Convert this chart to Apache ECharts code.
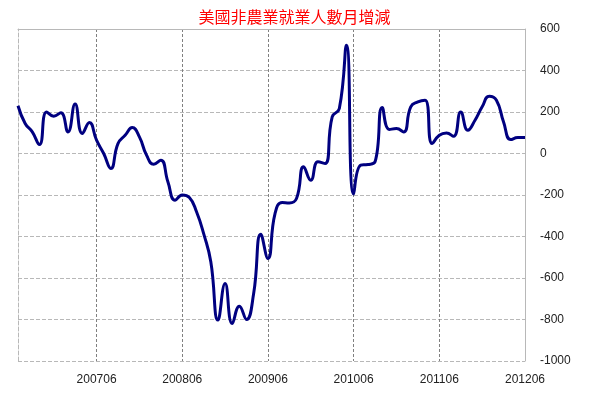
<!DOCTYPE html>
<html><head><meta charset="utf-8">
<script src="https://cdn.jsdelivr.net/npm/echarts@6/dist/echarts.min.js"></script>
<style>html,body{margin:0;padding:0;background:#fff}#c{width:589px;height:398px}</style>
</head><body><div id="c"></div>
<script>
var titleText = '美國非農業就業人數月增減';
// months 200607 .. 201206
var categories = [
 '200607','200608','200609','200610','200611','200612',
 '200701','200702','200703','200704','200705','200706','200707','200708','200709','200710','200711','200712',
 '200801','200802','200803','200804','200805','200806','200807','200808','200809','200810','200811','200812',
 '200901','200902','200903','200904','200905','200906','200907','200908','200909','200910','200911','200912',
 '201001','201002','201003','201004','201005','201006','201007','201008','201009','201010','201011','201012',
 '201101','201102','201103','201104','201105','201106','201107','201108','201109','201110','201111','201112',
 '201201','201202','201203','201204','201205','201206'];
var payrollChange = [
 230, 145, 104, 43, 200, 180,
 196, 104, 238, 96, 149, 64, 0, -72, 48, 88, 125, 80,
 -8, -52, -32, -137, -225, -200, -212, -281, -386, -522, -803, -627,
 -819, -736, -800, -675, -389, -506, -289, -236, -238, -217, -64, -129,
 -40, -48, 176, 217, 522, -195, -56, -53, -40, 222, 116, 120,
 104, 225, 249, 257, 48, 88, 99, 83, 200, 112, 160, 225,
 276, 257, 152, 67, 77, 77];
var yTicks = {min: -1000, max: 600, step: 200};

var chart = echarts.init(document.getElementById('c'), null, {renderer: 'canvas'});
function labelIdx(i){ return i % 12 === 11; }
chart.setOption({
  animation: false,
  backgroundColor: '#fff',
  title: {
    text: titleText, left: 'center', top: 4,
    textStyle: {color: '#ff0000', fontSize: 16, fontWeight: 'normal', fontFamily: '"Noto Sans CJK TC", sans-serif'}
  },
  grid: {left: 18, right: 64, top: 29, bottom: 37, containLabel: false},
  xAxis: [{
    type: 'category', data: categories, boundaryGap: false,
    axisLine: {show: false, onZero: false}, axisTick: {show: false},
    axisLabel: {interval: labelIdx, margin: 13, color: '#222', fontSize: 12, fontFamily: '"Liberation Sans", Arial, sans-serif'},
    splitLine: {show: true, interval: labelIdx, lineStyle: {color: '#808080', type: [3, 2], width: 1}}
  }, {
    type: 'category', data: categories, boundaryGap: false, position: 'top',
    axisLine: {show: true, onZero: false, lineStyle: {color: '#b8b8b8', width: 1}},
    axisTick: {show: false}, axisLabel: {show: false}, splitLine: {show: false}
  }],
  yAxis: [{
    type: 'value', position: 'right', min: yTicks.min, max: yTicks.max, interval: yTicks.step,
    axisLine: {show: true, onZero: false, lineStyle: {color: '#b8b8b8', width: 1}},
    axisTick: {show: false},
    axisLabel: {margin: 15, color: '#222', fontSize: 12, fontFamily: '"Liberation Sans", Arial, sans-serif',
      formatter: function(v){ return String(v); }},
    splitLine: {show: true, lineStyle: {color: '#b8b8b8', type: [4, 2], width: 1}}
  }, {
    type: 'value', position: 'left', min: yTicks.min, max: yTicks.max, interval: yTicks.step,
    axisLine: {show: true, onZero: false, lineStyle: {color: '#b8b8b8', type: [4, 2], width: 1}},
    axisTick: {show: false}, axisLabel: {show: false}, splitLine: {show: false}
  }],
  series: [{
    type: 'line', data: payrollChange, xAxisIndex: 0, yAxisIndex: 0,
    smooth: 0.5, symbol: 'none',
    lineStyle: {color: '#000080', width: 3}
  }]
});
</script></body></html>
